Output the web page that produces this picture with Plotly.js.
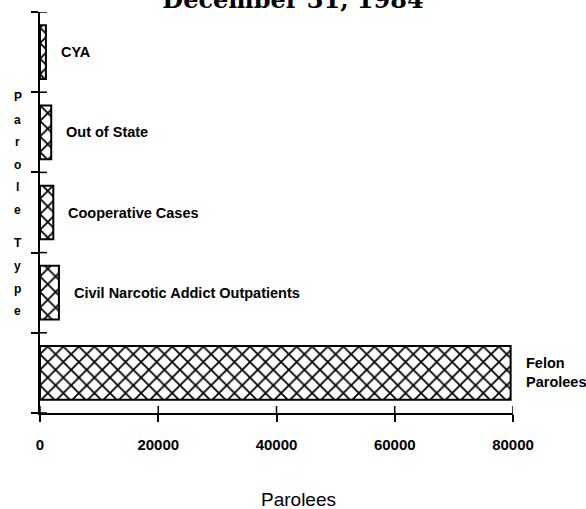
<!DOCTYPE html>
<html><head><meta charset="utf-8">
<script src="https://cdn.plot.ly/plotly-3.0.1.min.js"></script>
<style>html,body{margin:0;padding:0;background:#fff}#chart{width:586px;height:509px}</style>
</head><body><div id="chart"></div>
<script>
// ---- data ----
const categories = ['Felon Parolees', 'Civil Narcotic Addict Outpatients', 'Cooperative Cases', 'Out of State', 'CYA'];
const labelTexts = ['Felon<br>Parolees', 'Civil Narcotic Addict Outpatients', 'Cooperative Cases', 'Out of State', 'CYA'];
const parolees = [79600, 3200, 2250, 1900, 1000];
const xTickVals = [0, 20000, 40000, 60000, 80000];
const xTickText = ['0', '20000', '40000', '60000', '80000'];
const titleText = 'December 31, 1984';
const xTitleText = 'Parolees';
const yTitleText = 'Parole Type';

// ---- layout constants ----
const W = 586, H = 509;
const M = {l: 40, r: 73, t: 12, b: 96};
const plotW = W - M.l - M.r, plotH = H - M.t - M.b;
const pxToPaperX = px => (px - M.l) / plotW;
const pxToPaperY = py => (H - M.b - py) / plotH;
const FONT = 'Liberation Sans, Arial, sans-serif';

const trace = {
  type: 'bar',
  orientation: 'h',
  x: parolees,
  y: categories,
  width: 0.67,
  marker: {
    color: 'white',
    line: {color: 'black', width: 2},
    pattern: {shape: 'x', size: 11, solidity: 0.3, fgcolor: 'black', bgcolor: 'white'}
  },
  hoverinfo: 'x+y'
};

const annotations = [];
// category labels next to bar ends
categories.forEach((c, i) => {
  annotations.push({
    x: parolees[i], y: c, xref: 'x', yref: 'y',
    text: labelTexts[i], showarrow: false,
    xanchor: 'left', yanchor: 'middle', align: 'left', xshift: 13,
    font: {family: FONT, size: 14.5, weight: 'bold', color: 'black'}
  });
});
// stacked y-axis title letters
let cy = 97;
for (const ch of yTitleText) {
  if (ch === ' ') { cy += 11.5; continue; }
  annotations.push({
    x: pxToPaperX(17.5), y: pxToPaperY(cy), xref: 'paper', yref: 'paper',
    text: ch, showarrow: false, xanchor: 'center', yanchor: 'middle',
    font: {family: FONT, size: 12, weight: 'bold', color: 'black'}
  });
  cy += 22.5;
}
// x-axis title
annotations.push({
  x: pxToPaperX(298.5), y: pxToPaperY(500), xref: 'paper', yref: 'paper',
  text: xTitleText, showarrow: false, xanchor: 'center', yanchor: 'middle',
  font: {family: FONT, size: 19, color: 'black'}
});

// inner halves of the crossing tick marks
const shapes = [];
xTickVals.forEach(v => shapes.push({
  type: 'line', xref: 'x', yref: 'paper', x0: v, x1: v,
  ysizemode: 'pixel', yanchor: 0, y0: 0, y1: 7,
  line: {color: 'black', width: 1.5}
}));
for (let i = 0; i <= categories.length; i++) {
  const b = i - 0.5;
  shapes.push({
    type: 'line', xref: 'paper', yref: 'y', y0: b, y1: b,
    xsizemode: 'pixel', xanchor: 0, x0: 0, x1: 7,
    line: {color: 'black', width: 1.5}
  });
}

const layout = {
  width: W, height: H,
  margin: M,
  paper_bgcolor: 'white', plot_bgcolor: 'white',
  showlegend: false,
  title: {
    text: titleText,
    font: {family: 'DejaVu Serif, serif', size: 24, weight: 'bold', color: 'black'},
    x: 0.5, xref: 'container', xanchor: 'center',
    y: 1, yref: 'container', yanchor: 'middle'
  },
  xaxis: {
    range: [0, 80000], tickmode: 'array', tickvals: xTickVals, ticktext: xTickText,
    ticks: 'outside', ticklen: 7, tickwidth: 1.5, tickcolor: 'black',
    showline: true, linewidth: 2, linecolor: 'black',
    showgrid: false, zeroline: false, ticklabelstandoff: 10,
    tickfont: {family: FONT, size: 15, weight: 'bold', color: 'black'},
    fixedrange: true
  },
  yaxis: {
    type: 'category', categoryorder: 'array', categoryarray: categories,
    range: [-0.5, categories.length - 0.5],
    showticklabels: false, tickson: 'boundaries',
    ticks: 'outside', ticklen: 7, tickwidth: 1.5, tickcolor: 'black',
    showline: true, linewidth: 2, linecolor: 'black',
    showgrid: false, zeroline: false, fixedrange: true
  },
  annotations: annotations,
  shapes: shapes
};

Plotly.newPlot('chart', [trace], layout, {displayModeBar: false});
</script>
</body></html>
